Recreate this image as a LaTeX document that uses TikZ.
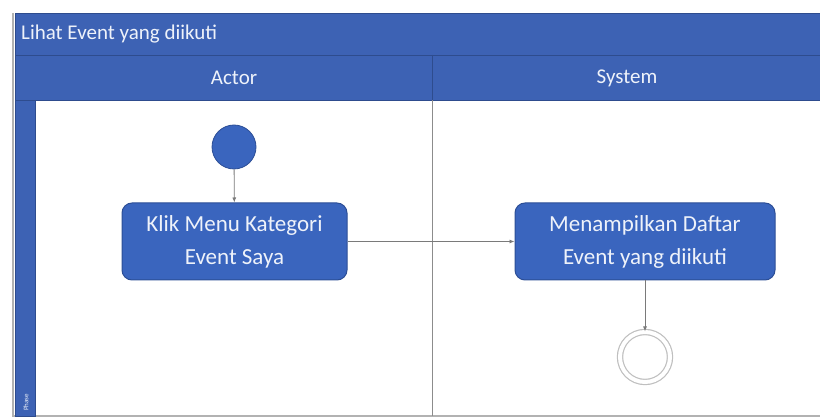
\documentclass[tikz,border=0pt]{standalone}
\usepackage{fontspec}
\setmainfont{Carlito}
\usetikzlibrary{arrows.meta}
\definecolor{lanefill}{HTML}{3D62B4}
\definecolor{laneline}{HTML}{2E4C8E}
\definecolor{actfill}{HTML}{3A65BE}
\definecolor{actline}{HTML}{2C4E96}
\definecolor{txtw}{HTML}{EEF2FA}
\definecolor{flow}{HTML}{7A7A7A}
\tikzset{
  band/.style={fill=lanefill, draw=laneline, line width=0.8pt},
  action/.style={rectangle, rounded corners=10pt, fill=actfill, draw=actline,
    line width=1pt, text=txtw, align=center, font=\fontsize{23}{33}\selectfont,
    minimum width=225pt, minimum height=77pt, inner sep=0pt},
  initial/.style={circle, fill=actfill, draw=actline, line width=0.8pt,
    minimum size=44pt, inner sep=0pt},
  final/.style={circle, draw=black!25, line width=1.2pt, minimum size=50pt,
    inner sep=0pt, double=white, double distance=4pt},
  flowline/.style={draw=flow, line width=0.8pt, -{Latex[length=5pt,width=4pt]}},
}
\begin{document}
\begin{tikzpicture}[x=1pt,y=-1pt]
\useasboundingbox (0,0) rectangle (820,419);
% outer frame
\draw[black!30, line width=1.5pt] (13,13) -- (13,416) -- (822,416);
% title bar and lane headers
\fill[band] (15,13) rectangle (830,55);
\node[anchor=west, text=txtw, font=\fontsize{21}{23}\selectfont, inner sep=0pt]
  (title) at (21,34) {Lihat Event yang diikuti};
\fill[band] (15,55) rectangle (830,100);
\fill[band] (15,100) rectangle (35,416);
\node[rotate=90, text=txtw, font=\fontsize{7}{8}\selectfont, anchor=west, inner sep=0pt]
  (phase) at (26,411) {Phase};
\node[text=txtw, font=\fontsize{21}{23}\selectfont] (actorhd) at (234,78) {Actor};
\node[text=txtw, font=\fontsize{21}{23}\selectfont] (systemhd) at (627,78) {System};
\draw[laneline, line width=0.8pt] (432,55) -- (432,100);
% lane divider
\draw[black!45, line width=1pt] (432,100) -- (432,416);
% nodes
\node[initial] (start) at (234,147) {};
\node[action, minimum width=225pt] (klik) at (234.5,241.5) {Klik Menu Kategori\\Event Saya};
\node[action, minimum width=260pt] (tampil) at (645,241.5) {Menampilkan Daftar\\Event yang diikuti};
\node[final] (end) at (645,357) {};
% flows
\draw[flowline] (start) -- (klik);
\draw[flowline] (klik) -- (tampil);
\draw[flowline] (tampil) -- (end);
\end{tikzpicture}
\end{document}
